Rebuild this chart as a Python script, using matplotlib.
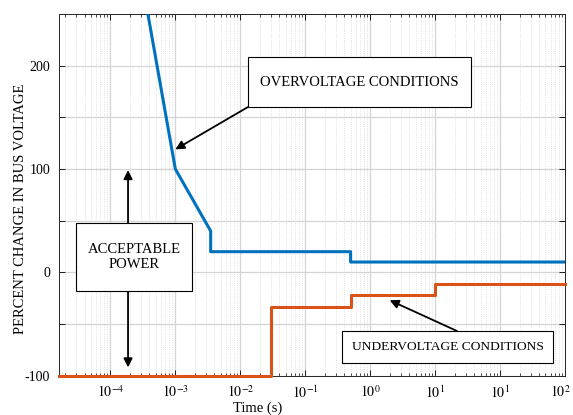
import numpy as np
import matplotlib
matplotlib.use("Agg")
import matplotlib.pyplot as plt
import matplotlib.transforms as mtransforms
from matplotlib.patches import Rectangle

plt.rcParams["font.family"] = ["Liberation Serif", "DejaVu Serif"]
plt.rcParams["mathtext.fontset"] = "stix"

# overvoltage limit (blue) and undervoltage limit (orange)
over_t = [1e-4, 1e-3, 3.5e-3, 3.5e-3, 0.5, 0.5, 1e3]
over_v = [455, 100, 40, 20, 20, 10, 10]
under_t = [1.6e-5, 0.03, 0.03, 0.5, 0.5, 10, 10, 1e3]
under_v = [-100, -100, -34, -34, -22, -22, -11, -11]

xticks = [1e-4, 1e-3, 1e-2, 1e-1, 1e0, 1e1, 1e2, 1e3]
xticklabels = [r"$10^{-4}$", r"$10^{-3}$", r"$10^{-2}$", r"$10^{-1}$",
               r"$10^{0}$", r"$10^{1}$", r"$10^{1}$", r"$10^{2}$"]
yticks = [-100, -50, 0, 50, 100, 150, 200]
yticklabels = ["-100", "", "0", "", "100", "", "200"]

W, H = 573, 415
fig = plt.figure(figsize=(W / 100, H / 100), dpi=100)
ax = fig.add_axes([58.7 / W, 1 - 375.7 / H, (565 - 58.7) / W, (375.7 - 14) / H])

ax.plot(over_t, over_v, color="#0072BD", lw=2.2, zorder=3)
ax.plot(under_t, under_v, color="#D95319", lw=2.2, zorder=3, clip_on=False)

ax.set_xscale("log")
ax.set_xlim(1.6e-5, 1e3)
ax.set_ylim(-100, 250)
ax.set_xticks(xticks)
ax.set_xticklabels(xticklabels, fontsize=10)
ax.set_yticks(yticks)
ax.set_yticklabels(yticklabels, fontsize=10)
ax.xaxis.set_minor_locator(matplotlib.ticker.LogLocator(base=10, subs=np.arange(2, 10), numticks=20))
ax.xaxis.set_minor_formatter(matplotlib.ticker.NullFormatter())

ax.tick_params(which="both", direction="in", top=True, right=True)
ax.tick_params(which="major", length=4, width=0.6, pad=6)
ax.tick_params(which="minor", length=2.5, width=0.5)
ax.grid(which="major", color="#d4d4d4", lw=0.9)
ax.grid(which="minor", axis="x", color="#d6d6d6", lw=0.6, ls=":")
ax.set_axisbelow(True)
for s in ax.spines.values():
    s.set_linewidth(0.7)
    s.set_color("#262626")

# keep the last tick label inside the picture
last = ax.get_xticklabels()[-1]
last.set_transform(last.get_transform() + mtransforms.ScaledTranslation(-3 / 72, 0, fig.dpi_scale_trans))

ax.set_xlabel("Time (s)", fontsize=10.5)
ax.xaxis.set_label_coords(0.392, -0.07)
ax.set_ylabel("PERCENT CHANGE IN BUS VOLTAGE", fontsize=10.5)
ax.yaxis.set_label_coords(-0.062, 0.462)


def ff(px, py):
    return px / W, 1 - py / H


def box(x0, y0, x1, y1, text, size=10.5):
    fx0, fy1 = ff(x0, y1)
    fig.add_artist(Rectangle((fx0, fy1), (x1 - x0) / W, (y1 - y0) / H,
                             transform=fig.transFigure, facecolor="white",
                             edgecolor="black", lw=0.8, zorder=5))
    cx, cy = ff((x0 + x1) / 2, (y0 + y1) / 2)
    fig.text(cx, cy, text, ha="center", va="center", fontsize=size,
             zorder=6, linespacing=1.2)


arrow = dict(arrowstyle="-|>", color="black", lw=1.3, mutation_scale=13,
             shrinkA=0, shrinkB=0)

ax.annotate("", xy=(1.0e-3, 119), xytext=ff(248, 107),
            textcoords="figure fraction", arrowprops=arrow, annotation_clip=False)
ax.annotate("", xy=(2.0, -27), xytext=ff(457, 331),
            textcoords="figure fraction", arrowprops=arrow, annotation_clip=False)
ax.annotate("", xy=(1.87e-4, 99), xytext=(1.87e-4, -92),
            arrowprops=dict(arrow, arrowstyle="<|-|>"), annotation_clip=False)

box(248, 57, 471, 107, "OVERVOLTAGE CONDITIONS")
box(76, 223, 192, 291, "ACCEPTABLE\nPOWER")
box(342, 331, 553, 363, "UNDERVOLTAGE CONDITIONS", size=9.7)

fig.savefig("out.png", dpi=100)
